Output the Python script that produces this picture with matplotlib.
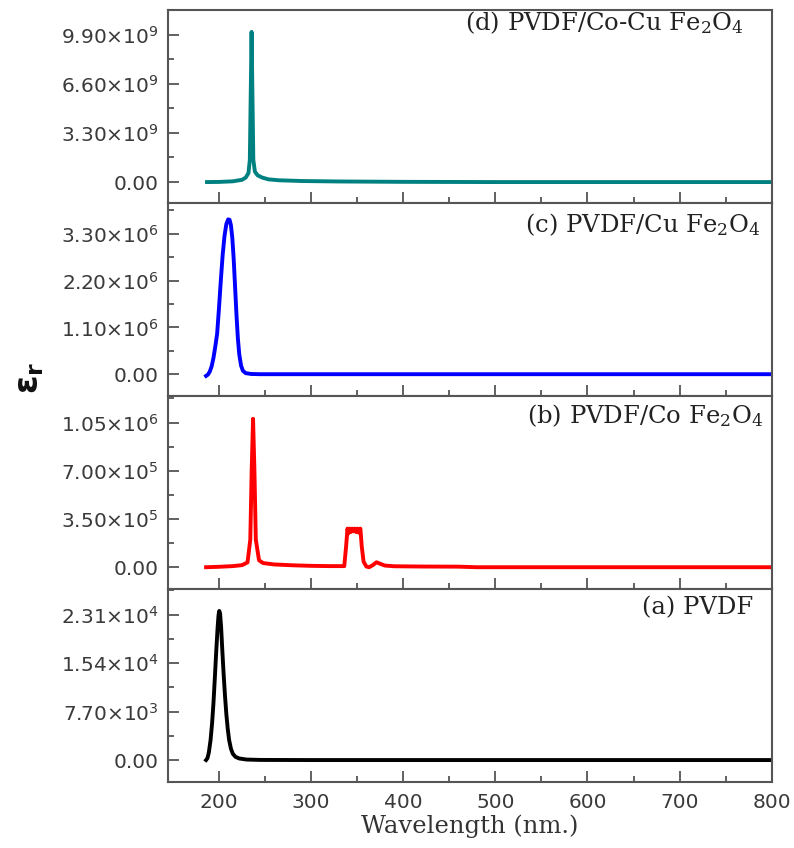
import matplotlib
matplotlib.use("Agg")
from matplotlib import pyplot as plt

plt.rcParams["mathtext.default"] = "regular"

# ---- data (wavelength in nm, eps_r) ----
# (a) PVDF
wl_a = [186, 187.5, 189, 190.9, 192.5, 194, 195.5, 197, 198.5, 199.5, 200.3, 201.2, 202.3, 203.5,
        205, 206.5, 208, 209.5, 211, 213, 215, 218, 222, 230, 245, 300, 800]
eps_a = [0, 300, 1200, 3200, 5800, 9000, 13000, 17200, 21000, 23000, 23700, 23300, 21200, 17800,
         13800, 10300, 7300, 5000, 3200, 1800, 1000, 500, 250, 80, 20, 0, 0]

# (b) PVDF/Co Fe2O4
wl_b = [186, 200, 215, 225, 231, 234, 235.5, 237, 238.5, 240, 243.5, 248, 260, 280, 300, 320, 336,
        338, 339.5, 340.5, 341.5, 343, 344.5, 346, 347.5, 349, 350.5, 352, 353.5, 355, 357, 360,
        363, 367, 371, 375, 380, 390, 420, 460, 480, 800]
eps_b = [0, 3000, 8000, 15000, 35000, 200000, 700000, 1077000, 700000, 200000, 50000, 30000, 20000,
         14000, 10000, 8000, 8000,
         150000, 280000, 245000, 280000, 255000, 280000, 260000, 280000, 255000, 280000, 250000,
         280000, 150000, 40000, 5000,
         0, 15000, 36000, 25000, 12000, 7000, 5000, 4000, 0, 0]

# (c) PVDF/Cu Fe2O4
wl_c = [186, 188, 190, 192, 194, 196, 198, 200, 202, 204, 206, 208, 210, 211.5, 213, 214.5, 216,
        217.5, 219, 220.5, 222, 224, 226, 229, 235, 245, 800]
eps_c = [-40000, -10000, 60000, 180000, 380000, 650000, 950000, 1550000, 2200000, 2800000, 3250000,
         3530000, 3640000, 3630000, 3500000, 3200000, 2700000, 2050000, 1400000, 850000, 470000,
         200000, 80000, 25000, 5000, 0, 0]

# (d) PVDF/Co-Cu Fe2O4
wl_d = [187, 200, 215, 225, 229, 232, 233.5, 234.5, 235.4, 236.3, 237.3, 239, 242, 247, 254, 265,
        290, 330, 400, 500, 800]
eps_d = [0, 0.01e9, 0.05e9, 0.15e9, 0.3e9, 0.6e9, 1.5e9, 6e9, 10.08e9, 6e9, 1.5e9, 0.7e9, 0.45e9,
         0.3e9, 0.18e9, 0.12e9, 0.07e9, 0.04e9, 0.015e9, 0, 0]

labels = ["(d) PVDF/Co-Cu Fe$_2$O$_4$", "(c) PVDF/Cu Fe$_2$O$_4$",
          "(b) PVDF/Co Fe$_2$O$_4$", "(a) PVDF"]
colors = ["#008080", "#0000ff", "#ff0000", "#000000"]

yticks_d = [0, 3.3e9, 6.6e9, 9.9e9]
ylabels_d = ["0.00", "3.30×10$^{9}$", "6.60×10$^{9}$", "9.90×10$^{9}$"]
yticks_c = [0, 1.1e6, 2.2e6, 3.3e6]
ylabels_c = ["0.00", "1.10×10$^{6}$", "2.20×10$^{6}$", "3.30×10$^{6}$"]
yticks_b = [0, 3.5e5, 7.0e5, 1.05e6]
ylabels_b = ["0.00", "3.50×10$^{5}$", "7.00×10$^{5}$", "1.05×10$^{6}$"]
yticks_a = [0, 7.7e3, 1.54e4, 2.31e4]
ylabels_a = ["0.00", "7.70×10$^{3}$", "1.54×10$^{4}$", "2.31×10$^{4}$"]

ylims = [(-1.40e9, 11.54e9), (-0.509e6, 4.027e6), (-1.564e5, 1.2434e6), (-3.44e3, 2.722e4)]
label_x = [0.953, 0.981, 0.986, 0.969]
label_y = [0.935, 0.886, 0.90, 0.90]

xs = [wl_d, wl_c, wl_b, wl_a]
ys = [eps_d, eps_c, eps_b, eps_a]
yt = [yticks_d, yticks_c, yticks_b, yticks_a]
yl = [ylabels_d, ylabels_c, ylabels_b, ylabels_a]

fig, axes = plt.subplots(4, 1, sharex=True, figsize=(7.94, 8.48), dpi=100)
fig.subplots_adjust(left=168.3 / 794, right=771.7 / 794, top=1 - 10 / 848,
                    bottom=1 - 781.7 / 848, hspace=0)

spine_c = "#555555"
for i, ax in enumerate(axes):
    ax.plot(xs[i], ys[i], color=colors[i], lw=2.8, solid_joinstyle="round")
    ax.set_xlim(145, 800)
    ax.set_ylim(*ylims[i])
    ax.set_yticks(yt[i])
    ax.set_yticklabels(yl[i], family="DejaVu Sans", fontsize=14.5, color="#3a3a3a")
    step = yt[i][1] - yt[i][0]
    ax.set_yticks([t + step / 2 for t in yt[i]], minor=True)
    ax.set_xticks([200, 300, 400, 500, 600, 700, 800])
    ax.set_xticks([250, 350, 450, 550, 650, 750], minor=True)
    ax.tick_params(which="both", direction="in", top=False, right=False, color=spine_c, width=1.3)
    ax.tick_params(which="major", length=8)
    ax.tick_params(which="minor", length=4)
    ax.tick_params(axis="y", pad=7)
    for s in ax.spines.values():
        s.set_color(spine_c)
        s.set_linewidth(1.5)
    ax.text(label_x[i], label_y[i], labels[i], transform=ax.transAxes, ha="right", va="center",
            family="DejaVu Serif", fontsize=17.5, color="#222222")

axes[-1].tick_params(axis="x", pad=8)
for t in axes[-1].get_xticklabels():
    t.set_family("DejaVu Sans")
    t.set_fontsize(14.5)
    t.set_color("#3a3a3a")

axes[-1].set_xlabel("Wavelength (nm.)", family="DejaVu Serif", fontsize=17.5, color="#333333",
                    labelpad=2)
fig.text(0.037, 0.555, "ε$_{r}$", rotation=90, ha="center", va="center",
         family="DejaVu Sans", fontweight="bold", fontsize=24, color="#111111")

fig.savefig("out.png", dpi=100)
